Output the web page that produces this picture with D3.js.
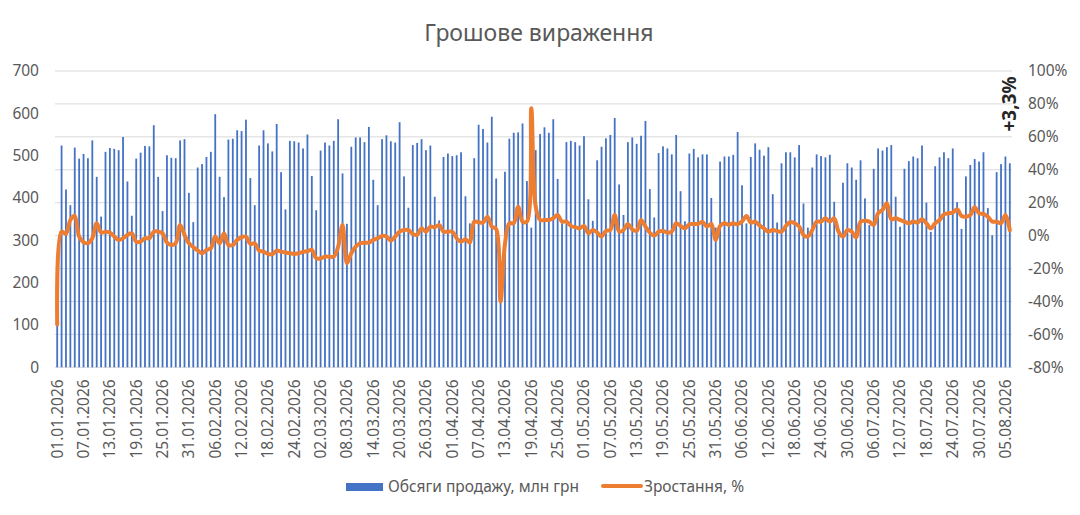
<!DOCTYPE html>
<html>
<head>
<meta charset="utf-8">
<script src="https://cdn.jsdelivr.net/npm/d3@7"></script>
<style>
  html, body { margin: 0; padding: 0; background: #fff; }
  svg { display: block; font-family: "Noto Sans", sans-serif; }
  .tick text { fill: #595959; }
</style>
</head>
<body>
<svg id="chart" width="1080" height="515"></svg>
<script>
(function () {
  'use strict';

  // daily categories, 01.01.2026 .. 06.08.2026
  const days = d3.timeDay.range(new Date(2026, 0, 1), new Date(2026, 7, 7));

  // sales, mln UAH
  const sales = [
    218, 524, 420, 383, 519, 493, 504, 494, 536, 450, 356, 509, 518, 516, 513, 544, 439, 358, 493, 507,
    523, 522, 572, 450, 369, 501, 495, 494, 536, 539, 412, 343, 472, 480, 497, 509, 598, 450, 402, 538,
    540, 560, 558, 585, 447, 383, 524, 560, 529, 510, 575, 461, 373, 535, 534, 531, 517, 550, 452, 371,
    512, 531, 524, 535, 586, 458, 339, 521, 543, 543, 532, 568, 443, 383, 539, 548, 534, 531, 579, 451,
    377, 525, 530, 539, 513, 524, 403, 347, 497, 505, 499, 501, 508, 404, 340, 494, 573, 563, 531, 592,
    446, 200, 462, 540, 554, 555, 576, 440, 330, 513, 551, 567, 554, 586, 445, 340, 532, 535, 532, 524,
    546, 397, 346, 489, 521, 541, 549, 589, 432, 360, 532, 543, 528, 547, 582, 421, 354, 506, 522, 517,
    503, 549, 416, 345, 505, 516, 496, 503, 503, 400, 330, 486, 498, 498, 502, 556, 430, 340, 497, 529,
    514, 500, 520, 409, 342, 482, 508, 508, 496, 525, 387, 330, 472, 503, 499, 496, 502, 391, 320, 436,
    482, 472, 443, 489, 399, 336, 469, 517, 512, 520, 525, 403, 332, 469, 487, 498, 494, 524, 389, 320,
    475, 496, 508, 494, 517, 390, 327, 451, 478, 492, 486, 508, 376, 312, 461, 480, 498, 482
  ];

  // growth, %
  const growth = [
    -54, 2.4, 1, 9.5, 12, -0.6, -4, -4.6, -1.6, 7.5, 1.8, 2.4, 1.8, -0.6, -2.6, -1.6, 0.4, 1.4, -3.7, -3.7,
    -1.6, -1.6, 2.4, 2.4, 1.4, -4.2, -5.7, -4.6, 6.5, 0.4, -4.6, -7, -9, -10.7, -8.7, -7.7, -0.6, -4.7, 1.4, -5.7,
    -5.7, -2.6, -1, -0.6, -5.1, -4.7, -9.1, -9.7, -11.1, -11.3, -9.1, -9.7, -10.3, -10.7, -11.1, -10.7, -9.9, -9.5, -8.7, -13.8,
    -13.8, -12.8, -12.8, -12.8, -6.7, 6.5, -16.8, -10.7, -6.7, -4.7, -4.3, -4.3, -2.6, -1.6, -0.2, -0.6, -3, -0.6, 2.4, 3.4,
    3.4, 1, 0.4, 4.4, 2.4, 5.5, 5.1, 6.5, 2.4, 2.4, 2.4, -1.6, -3.7, -2.2, -4.3, 8.5, 8.1, 7.9, 11.5, 5.5,
    4, -40, -5, 7.5, 7.5, 17.6, 8.5, 8.5, 77.3, 17.6, 9.5, 9.5, 9.5, 10.5, 12.5, 8.5, 8.5, 5.9, 5.1, 4.4,
    5.9, 1.4, 3.4, 1.8, -0.6, 2.8, 3.4, 12.5, 2.4, 3.4, 7.1, 3.8, 2.8, 9.5, 5.5, 1.8, 0, 2.4, 2.8, 1.8,
    2.4, 7.5, 5.9, 4.4, 6.9, 7.1, 7.1, 8.3, 5.5, 7.1, -2.6, 5.9, 7.5, 6.5, 7.5, 6.9, 8.5, 11.9, 7.9, 8.5,
    6.2, 4.4, 2.4, 3.4, 2.8, 2.4, 5.9, 8.3, 7.5, 5.5, 0.4, -0.6, 3.4, 8.5, 8.5, 10.5, 8.5, 10.5, 2.4, -0.6,
    3.4, 2.4, -1.2, 8.5, 9.1, 8.5, 6.5, 13.6, 15.6, 19.6, 9.9, 10.5, 9.5, 8.5, 7.5, 8.5, 7.9, 9.9, 7.5, 4.4,
    7.5, 9.5, 12.9, 13.6, 14, 16, 11.9, 11.5, 12.5, 17.2, 13.6, 13.2, 11.5, 8.5, 8.5, 7.5, 12.5, 3.3
  ];

  const salesTicks = [0, 100, 200, 300, 400, 500, 600, 700];
  const growthTicks = [-80, -60, -40, -20, 0, 20, 40, 60, 80, 100];

  const TITLE = 'Грошове вираження';
  const SALES_NAME = 'Обсяги продажу, млн грн';
  const GROWTH_NAME = 'Зростання, %';

  const BLUE = '#4472C4';
  const ORANGE = '#ED7D31';
  const GREY_TEXT = '#595959';
  const GRID = '#d9d9d9';

  const left = 55, right = 1012, top = 71, bottom = 367.3;
  const svg = d3.select('#chart');
  const fmtDay = d3.timeFormat('%d.%m.%Y');
  const fmtPct = v => (v > 0 ? '+' : '') + String(v).replace('.', ',') + '%';

  const x = d3.scaleBand().domain(days).range([left, right]).padding(0);
  const cx = d => x(d) + x.bandwidth() / 2;
  const yL = d3.scaleLinear().domain([0, 700]).range([bottom, top]);
  const yR = d3.scaleLinear().domain([-80, 100]).range([bottom, top]);

  // title
  svg.append('text')
    .attr('x', 539).attr('y', 41)
    .attr('text-anchor', 'middle')
    .attr('fill', GREY_TEXT)
    .style('font-size', '23px')
    .text(TITLE);

  // gridlines follow the secondary axis
  svg.append('g').selectAll('line').data(growthTicks).join('line')
    .attr('x1', left).attr('x2', right)
    .attr('y1', d => yR(d)).attr('y2', d => yR(d))
    .attr('stroke', GRID).attr('stroke-width', 1);

  // axes
  const axL = svg.append('g').attr('transform', `translate(${left},0)`)
    .call(d3.axisLeft(yL).tickValues(salesTicks).tickSize(0).tickPadding(16));
  const axR = svg.append('g').attr('transform', `translate(${right},0)`)
    .call(d3.axisRight(yR).tickValues(growthTicks).tickSize(0).tickPadding(16)
      .tickFormat(d => d + '%'));
  [axL, axR].forEach(a => {
    a.select('.domain').remove();
    a.selectAll('text').style('font-size', '15.5px').style('font-family', '"Noto Sans", sans-serif');
  });

  const axB = svg.append('g').attr('transform', `translate(0,${bottom})`)
    .call(d3.axisBottom(x).tickValues(days.filter((d, i) => i % 6 === 0))
      .tickSize(0).tickFormat(fmtDay));
  axB.select('.domain').remove();
  axB.selectAll('text')
    .style('font-size', '15.5px').style('font-family', '"Noto Sans", sans-serif')
    .attr('text-anchor', 'end')
    .attr('transform', 'rotate(-90)')
    .attr('x', -12).attr('y', 0).attr('dy', '0.35em');

  // bars
  const barW = 1.8;
  svg.append('g').selectAll('rect').data(days).join('rect')
    .attr('x', d => cx(d) - barW / 2)
    .attr('width', barW)
    .attr('y', (d, i) => yL(sales[i]))
    .attr('height', (d, i) => yL(0) - yL(sales[i]))
    .attr('fill', BLUE);

  // growth line
  const line = d3.line()
    .x((d, i) => cx(days[i]))
    .y(d => yR(d))
    .curve(d3.curveCatmullRom.alpha(0.5));
  svg.append('path').datum(growth)
    .attr('d', line)
    .attr('fill', 'none')
    .attr('stroke', ORANGE)
    .attr('stroke-width', 4)
    .attr('stroke-linejoin', 'round')
    .attr('stroke-linecap', 'round');

  // last value label
  const lastDay = days[days.length - 1];
  svg.append('text')
    .attr('transform', `translate(${cx(lastDay)},${yR(80)}) rotate(-90)`)
    .attr('text-anchor', 'middle')
    .attr('dy', '0.35em')
    .attr('fill', '#262626')
    .style('font-size', '19px')
    .style('font-weight', 'bold')
    .text(fmtPct(growth[growth.length - 1]));

  // legend
  const lg = svg.append('g').style('font-size', '15.5px').attr('fill', GREY_TEXT);
  lg.append('rect').attr('x', 346).attr('y', 483).attr('width', 37).attr('height', 8).attr('fill', BLUE);
  lg.append('text').attr('x', 388).attr('y', 492).text(SALES_NAME);
  lg.append('line').attr('x1', 603).attr('x2', 641).attr('y1', 486).attr('y2', 486)
    .attr('stroke', ORANGE).attr('stroke-width', 4).attr('stroke-linecap', 'round');
  lg.append('text').attr('x', 644).attr('y', 492).text(GROWTH_NAME);
})();
</script>
</body>
</html>
